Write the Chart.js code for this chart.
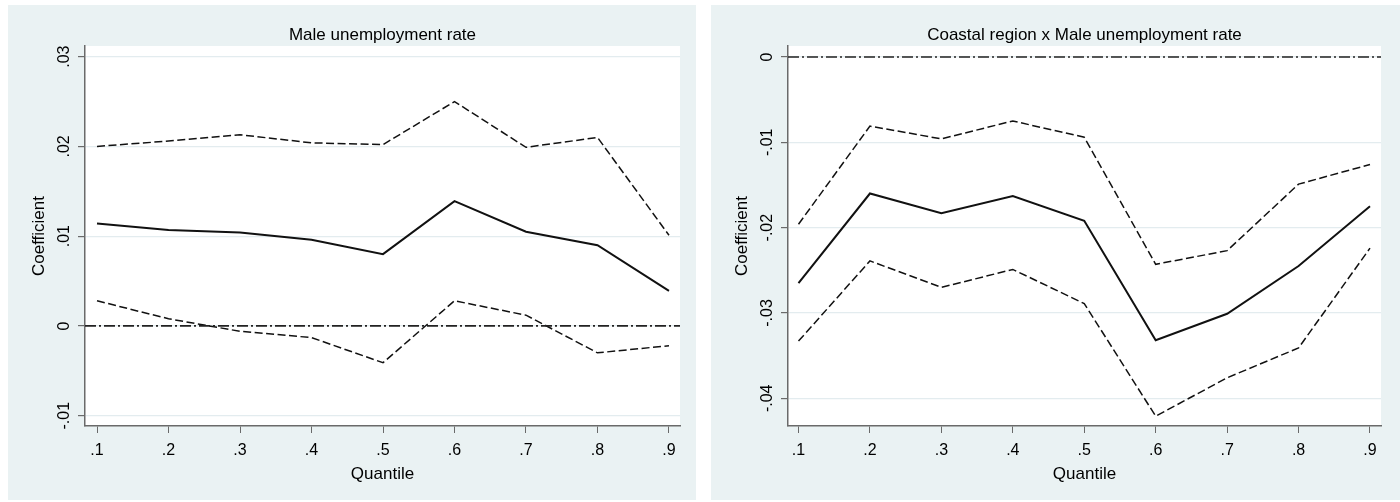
<!DOCTYPE html>
<html>
<head>
<meta charset="utf-8">
<script src="https://cdn.jsdelivr.net/npm/chart.js@4.4.1/dist/chart.umd.min.js"></script>
<style>
  html, body { margin: 0; padding: 0; background: #fff; width: 1400px; height: 502px; overflow: hidden; }
  .panel { position: absolute; top: 5px; height: 495px; background: #eaf2f3; }
  #leftPanel { left: 8px; width: 688px; }
  #rightPanel { left: 711px; width: 689px; }
  canvas { display: block; }
</style>
</head>
<body>
<div class="panel" id="leftPanel"><canvas id="maleChart" width="688" height="495"></canvas></div>
<div class="panel" id="rightPanel"><canvas id="coastChart" width="689" height="495"></canvas></div>
<script>
// quantiles on the x axis
const quantiles = [0.1, 0.2, 0.3, 0.4, 0.5, 0.6, 0.7, 0.8, 0.9];
const xTickLabels = ['.1', '.2', '.3', '.4', '.5', '.6', '.7', '.8', '.9'];

// left panel: male unemployment rate
const maleUpper = [0.0200, 0.0206, 0.0213, 0.0204, 0.0202, 0.0250, 0.0199, 0.0210, 0.0101];
const maleCoef  = [0.0114, 0.0107, 0.0104, 0.0096, 0.0080, 0.0139, 0.0105, 0.0090, 0.0039];
const maleLower = [0.0028, 0.0008, -0.0006, -0.0013, -0.0041, 0.0028, 0.0012, -0.0030, -0.0022];
const maleYTicks = [-0.01, 0, 0.01, 0.02, 0.03];
const maleYTickLabels = ['-.01', '0', '.01', '.02', '.03'];

// right panel: coastal region x male unemployment rate
const coastUpper = [-0.0196, -0.0081, -0.0096, -0.0075, -0.0094, -0.0243, -0.0227, -0.0149, -0.0126];
const coastCoef  = [-0.0265, -0.0160, -0.0183, -0.0163, -0.0192, -0.0332, -0.0301, -0.0245, -0.0175];
const coastLower = [-0.0333, -0.0239, -0.0270, -0.0249, -0.0289, -0.0421, -0.0376, -0.0341, -0.0224];
const coastYTicks = [-0.04, -0.03, -0.02, -0.01, 0];
const coastYTickLabels = ['-.04', '-.03', '-.02', '-.01', '0'];

const FONT = '"Liberation Sans", Arial, sans-serif';
const axisGray = '#6a6a6a';
const gridColor = '#e3ecef';
const lineColor = '#111';

const toPoints = arr => quantiles.map((q, i) => ({ x: q, y: arr[i] }));

// white plot region + title + rotated y tick labels (Stata style)
const panelText = {
    id: 'panelText',
    beforeDraw(chart) {
        const { ctx, chartArea: a } = chart;
        ctx.save();
        ctx.fillStyle = '#fff';
        ctx.fillRect(a.left, a.top, a.right - a.left, a.bottom - a.top);
        ctx.restore();
    },
    afterDraw(chart, args, opts) {
        const { ctx, chartArea: a } = chart;
        const y = chart.scales.y;
        ctx.save();
        ctx.fillStyle = '#000';
        ctx.textAlign = 'center';
        ctx.font = '16px ' + FONT;
        ctx.textBaseline = 'middle';
        opts.yTicks.forEach((v, i) => {
            ctx.save();
            ctx.translate(y.right - 20, y.getPixelForValue(v));
            ctx.rotate(-Math.PI / 2);
            ctx.fillText(opts.yTickLabels[i], 0, 0);
            ctx.restore();
        });
        ctx.font = '17px ' + FONT;
        ctx.textBaseline = 'alphabetic';
        ctx.fillText(opts.title, (a.left + a.right) / 2, 35);
        ctx.restore();
    }
};

function makeChart(id, cfg) {
    const ctx = document.getElementById(id).getContext('2d');
    return new Chart(ctx, {
        type: 'line',
        data: {
            datasets: [
                {
                    data: [{ x: cfg.xMin, y: 0 }, { x: cfg.xMax, y: 0 }],
                    borderColor: '#222', borderWidth: 1.7, borderDash: [11, 3, 2, 3]
                },
                { data: toPoints(cfg.upper), borderColor: lineColor, borderWidth: 1.5, borderDash: [8, 3.5] },
                { data: toPoints(cfg.coef), borderColor: lineColor, borderWidth: 2 },
                { data: toPoints(cfg.lower), borderColor: lineColor, borderWidth: 1.5, borderDash: [8, 3.5] }
            ]
        },
        options: {
            responsive: false,
            animation: false,
            layout: { padding: { top: 41, right: cfg.rightPad, left: 0, bottom: 0 } },
            elements: { point: { radius: 0 }, line: { tension: 0, fill: false } },
            plugins: {
                legend: { display: false },
                tooltip: { enabled: false },
                panelText: { title: cfg.title, yTicks: cfg.yTicks, yTickLabels: cfg.yTickLabels }
            },
            scales: {
                x: {
                    type: 'linear',
                    min: cfg.xMin,
                    max: cfg.xMax,
                    afterBuildTicks: s => { s.ticks = quantiles.map(v => ({ value: v })); },
                    afterFit: s => { s.height = 74; },
                    grid: { drawOnChartArea: false, drawTicks: true, tickLength: 7, tickColor: axisGray, tickWidth: 1 },
                    border: { display: true, color: axisGray, width: 1.5 },
                    ticks: {
                        color: '#000', font: { family: FONT, size: 16 }, padding: 8,
                        maxRotation: 0, autoSkip: false,
                        callback: (v, i) => xTickLabels[i]
                    },
                    title: {
                        display: true, text: 'Quantile', color: '#000',
                        font: { family: FONT, size: 17 }, padding: { top: 0, bottom: 15 }
                    }
                },
                y: {
                    type: 'linear',
                    min: cfg.yMin,
                    max: cfg.yMax,
                    afterBuildTicks: s => { s.ticks = cfg.yTicks.map(v => ({ value: v })); },
                    afterFit: s => { s.width = 77; },
                    grid: { color: gridColor, lineWidth: 1.2, drawTicks: true, tickLength: 7, tickColor: axisGray },
                    border: { display: true, color: axisGray, width: 1.5 },
                    ticks: { display: false },
                    title: {
                        display: true, text: 'Coefficient', color: '#000',
                        font: { family: FONT, size: 17 }, padding: { top: 21, bottom: 0 }
                    }
                }
            }
        },
        plugins: [panelText]
    });
}

makeChart('maleChart', {
    title: 'Male unemployment rate',
    upper: maleUpper, coef: maleCoef, lower: maleLower,
    yTicks: maleYTicks, yTickLabels: maleYTickLabels,
    yMin: -0.01115, yMax: 0.03119,
    xMin: 0.0832, xMax: 0.9154,
    rightPad: 16
});

makeChart('coastChart', {
    title: 'Coastal region x Male unemployment rate',
    upper: coastUpper, coef: coastCoef, lower: coastLower,
    yTicks: coastYTicks, yTickLabels: coastYTickLabels,
    yMin: -0.04325, yMax: 0.00129,
    xMin: 0.0853, xMax: 0.9154,
    rightPad: 19
});
</script>
</body>
</html>
